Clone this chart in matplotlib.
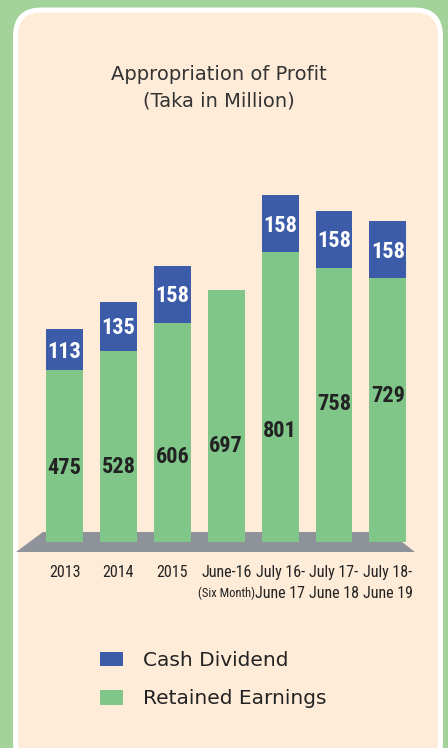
import matplotlib.pyplot as plt
import numpy as np
from matplotlib.patches import FancyBboxPatch, Polygon
from matplotlib.transforms import IdentityTransform

# data
periods = ['2013', '2014', '2015', 'June-16', 'July 16-', 'July 17-', 'July 18-']
periods_2nd = ['', '', '', '(Six Month)', 'June 17', 'June 18', 'June 19']
retained = [475, 528, 606, 697, 801, 758, 729]
dividend = [113, 135, 158, 0, 158, 158, 158]
# where the retained label sits, as a share of the green bar
retained_label_pos = [0.43, 0.395, 0.388, 0.381, 0.383, 0.504, 0.554]

green = '#80c689'
blue = '#3c5ca9'
floor_grey = '#8d9399'
cream = '#feecd9'
bg_green = '#a3d39b'
# first installed one wins
narrow = ['Roboto Condensed', 'PT Sans Narrow', 'Archivo Narrow',
          'Open Sans Condensed', 'Carlito', 'DejaVu Sans']

fig = plt.figure(figsize=(4.48, 7.48), dpi=100)
fig.patch.set_facecolor(bg_green)

# rounded panel, in pixels from bottom-left
panel = FancyBboxPatch((15.5, -20), 425, 758,
                       boxstyle='round,pad=0,rounding_size=26',
                       transform=IdentityTransform(), facecolor=cream,
                       edgecolor='white', linewidth=3.6, zorder=-1)
fig.patches.append(panel)

ax = fig.add_axes([14 / 448, 1 - 552 / 748, 426 / 448, 402 / 748])
ax.set_facecolor('none')

x = np.arange(len(periods))
w = 0.685
ax.bar(x, retained, w, color=green, label='Retained Earnings', zorder=3)
ax.bar(x, dividend, w, bottom=retained, color=blue, label='Cash Dividend', zorder=3)

# grey floor under the bars
depth = 27.7
floor = Polygon([(x[0] - 0.90, -depth), (x[0] - 0.40, depth),
                 (x[-1] + 0.03, depth), (x[-1] + 0.50, -depth)],
                closed=True, facecolor=floor_grey, edgecolor='none',
                zorder=2, clip_on=False)
ax.add_patch(floor)

for i in range(len(x)):
    ax.text(x[i], retained[i] * retained_label_pos[i], str(retained[i]),
            ha='center', va='center', fontsize=16, fontweight='bold',
            family=narrow, color='#222222', zorder=4)
    if dividend[i] > 0:
        ax.text(x[i], retained[i] + dividend[i] / 2 - 5, str(dividend[i]),
                ha='center', va='center', fontsize=16, fontweight='bold',
                family=narrow, color='white', zorder=4)

ax.set_xlim(-0.937, 6.967)
ax.set_ylim(-depth, 1084)
ax.set_xticks([])
ax.set_yticks([])
for s in ax.spines.values():
    s.set_visible(False)

for i in range(len(x)):
    ax.annotate(periods[i], (x[i], 0), xycoords=('data', 'axes fraction'),
                xytext=(0, -15), textcoords='offset points',
                ha='center', va='center', fontsize=11.5, family=narrow,
                color='#222222')
    if periods_2nd[i]:
        small = periods_2nd[i].startswith('(')
        ax.annotate(periods_2nd[i], (x[i], 0), xycoords=('data', 'axes fraction'),
                    xytext=(0, -30), textcoords='offset points',
                    ha='center', va='center', fontsize=9 if small else 11.5,
                    family=narrow, color='#222222')

fig.text(219 / 448, 1 - 75 / 748, 'Appropriation of Profit', ha='center',
         va='center', fontsize=14, color='#333333')
fig.text(219 / 448, 1 - 101 / 748, '(Taka in Million)', ha='center',
         va='center', fontsize=14, color='#333333')

handles, labels = ax.get_legend_handles_labels()
fig.legend(handles[::-1], labels[::-1], loc='upper left',
           bbox_to_anchor=(82 / 448, 1 - 633 / 748), frameon=False,
           fontsize=14.5, handlelength=1.15, handleheight=0.75,
           handletextpad=1.0, labelspacing=0.95, labelcolor='#222222')

fig.savefig('out.png', dpi=100, facecolor=fig.get_facecolor())
